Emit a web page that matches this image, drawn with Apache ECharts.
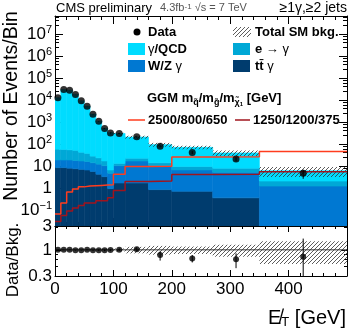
<!DOCTYPE html>
<html>
<head>
<meta charset="utf-8">
<script src="https://cdn.jsdelivr.net/npm/echarts@6/dist/echarts.min.js"></script>
<style>
  html, body { margin: 0; padding: 0; background: #fff; }
  #chart { width: 353px; height: 329px; }
</style>
</head>
<body>
<div id="chart"></div>
<script>
// MET bin edges [GeV]
var binEdges = [0, 10, 20, 30, 40, 50, 60, 70, 80, 90, 100, 120, 160, 200, 270, 350, 500];

// observed events per bin
var dataCounts = [13500, 32000, 29500, 19000, 9800, 5600, 2400, 1150, 540, 340, 320, 225, 84, 44, 22, 5];
var dataErr    = [116, 179, 172, 138, 99, 75, 49, 34, 23, 18, 18, 15, 9, 6.6, 4.7, 2.2];

// background components (events per bin)
var qcd     = [13400, 31400, 29400, 19400, 9750, 5560, 2420, 1145, 530, 338, 306, 196, 85, 65, 33.5, 4.3];
var eleFake = [40, 40, 38, 36, 27, 23, 15, 12, 7, 2, 3, 6, 4, 3, 3, 0.9];
var wzGamma = [11, 11, 11.5, 11, 10.5, 10, 9, 8.5, 7.5, 4, 9.2, 16.2, 10.1, 6.3, 5.1, 1.3];
var ttGamma = [9, 9, 8.5, 8, 7.5, 7, 6, 4.5, 3.5, 1.0, 1.8, 1.8, 0.9, 0.75, 0.38, 0];
// relative uncertainty of total SM background
var bkgUnc  = [0.01, 0.01, 0.01, 0.01, 0.01, 0.01, 0.02, 0.02, 0.03, 0.03, 0.07, 0.15, 0.2, 0.17, 0.27, 0.48];

// GGM signal points
var sig1 = [0.07, 0.22, 0.7, 0.95, 1.2, 1.3, 1.35, 1.4, 1.45, 1.5, 4.5, 10, 10.5, 27, 28, 48];
var sig2 = [0.032, 0.06, 0.095, 0.13, 0.17, 0.22, 0.22, 0.28, 0.28, 0.38, 0.83, 2.1, 2.2, 4.4, 4.5, 5.8];

// Data / Bkg ratio
var ratio     = [1.0, 1.0, 1.0, 0.98, 0.98, 1.0, 0.98, 0.98, 0.98, 0.99, 1.0, 1.03, 0.79, 0.67, 0.65, 0.73];
var ratioUp   = [0.01, 0.01, 0.01, 0.01, 0.01, 0.02, 0.02, 0.03, 0.04, 0.05, 0.05, 0.07, 0.14, 0.12, 0.2, 0.95];
var ratioDown = [0.01, 0.01, 0.01, 0.01, 0.01, 0.02, 0.02, 0.03, 0.04, 0.05, 0.05, 0.07, 0.18, 0.11, 0.22, 0.6];

var Y_MIN = 0.02, Y_MAX = 7e7;
var FONT = '"Liberation Sans", Arial, Helvetica, sans-serif';
var C_QCD = '#00dcff', C_ELE = '#00a8d6', C_WZ = '#0078d2', C_TT = '#003c6e';
var C_SIG1 = '#ff3c1e', C_SIG2 = '#a0141e';

function makeHatch() {
    var c = document.createElement('canvas');
    c.width = 4; c.height = 4;
    var g = c.getContext('2d');
    g.strokeStyle = '#333';
    g.lineWidth = 0.8;
    g.beginPath();
    g.moveTo(0, 4); g.lineTo(4, 0);
    g.moveTo(-1, 1); g.lineTo(1, -1);
    g.moveTo(3, 5); g.lineTo(5, 3);
    g.stroke();
    return c;
}
var hatch = { image: makeHatch(), repeat: 'repeat' };

var nBins = binEdges.length - 1;
var centers = [];
for (var i = 0; i < nBins; i++) centers.push((binEdges[i] + binEdges[i + 1]) / 2);

// stacked bands [lo, hi, base, top]
function stackBands() {
    var layers = [ttGamma, wzGamma, eleFake, qcd];
    var cum = new Array(nBins).fill(0);
    var out = [];
    layers.forEach(function (vals) {
        var items = [];
        for (var i = 0; i < nBins; i++) {
            var base = Math.max(cum[i], Y_MIN);
            cum[i] += vals[i];
            if (vals[i] > 0) items.push([binEdges[i], binEdges[i + 1], base, cum[i]]);
        }
        out.push(items);
    });
    return out;
}
var bands = stackBands();
var bandColors = [C_TT, C_WZ, C_ELE, C_QCD];

var totalBkg = [];
for (var i = 0; i < nBins; i++) totalBkg.push(qcd[i] + eleFake[i] + wzGamma[i] + ttGamma[i]);

function rectRender(fill, stroke) {
    return function (params, api) {
        var p0 = api.coord([api.value(0), api.value(3)]);
        var p1 = api.coord([api.value(1), api.value(2)]);
        return {
            type: 'rect',
            shape: { x: p0[0], y: p0[1], width: p1[0] - p0[0], height: p1[1] - p0[1] },
            style: { fill: fill, stroke: stroke || null, lineWidth: stroke ? 0.6 : 0 }
        };
    };
}
function errRender(params, api) {
    var a = api.coord([api.value(0), api.value(1)]);
    var b = api.coord([api.value(0), api.value(2)]);
    return { type: 'line', shape: { x1: a[0], y1: a[1], x2: b[0], y2: b[1] },
             style: { stroke: '#000', lineWidth: 1 } };
}

function stepData(vals) {
    return binEdges.map(function (e, i) { return [e, vals[Math.min(i, nBins - 1)]]; });
}

function fmtLog(v) {
    var l = Math.log10(v), e = Math.round(l);
    if (Math.abs(l - e) > 1e-6) return '';
    if (e === 0) return '{b|1}';
    if (e === 1) return '{b|10}';
    return '{b|10}{s|' + (e < 0 ? '\u2212' : '') + Math.abs(e) + '}';
}

function xAx(grid, pos, labels, tl) {
    return {
        type: 'value', gridIndex: grid, position: pos, min: 0, max: 500, interval: 100,
        axisLine: { show: true, onZero: false, lineStyle: { color: '#000', width: 1 } },
        axisTick: { show: true, inside: true, length: tl, lineStyle: { color: '#000' } },
        minorTick: { show: true, splitNumber: 5, length: tl / 2, lineStyle: { color: '#000' } },
        axisLabel: { show: labels, showMaxLabel: false, margin: 5, fontSize: 17, fontFamily: FONT, color: '#000' },
        splitLine: { show: false }
    };
}
function yAx(grid, pos, labels, min, max, tl, fmt) {
    return {
        type: 'log', gridIndex: grid, position: pos, min: min, max: max,
        axisLine: { show: true, onZero: false, lineStyle: { color: '#000', width: 1 } },
        axisTick: { show: true, inside: true, length: tl, lineStyle: { color: '#000' } },
        minorTick: { show: true, splitNumber: 5, length: tl / 2, lineStyle: { color: '#000' } },
        axisLabel: {
            show: labels, margin: 3, formatter: fmt, fontSize: 17, fontFamily: FONT, color: '#000',
            rich: {
                b: { fontSize: 17, fontFamily: FONT, color: '#000', lineHeight: 20 },
                s: { fontSize: 11, fontFamily: FONT, color: '#000', verticalAlign: 'top', lineHeight: 12 }
            }
        },
        splitLine: { show: false }
    };
}

var series = [];
bands.forEach(function (items, k) {
    series.push({ type: 'custom', xAxisIndex: 0, yAxisIndex: 0, clip: true, z: 2,
        renderItem: rectRender(bandColors[k], bandColors[k]), data: items, silent: true });
});
// total SM background uncertainty
series.push({ type: 'custom', xAxisIndex: 0, yAxisIndex: 0, clip: true, z: 3,
    renderItem: rectRender(hatch),
    data: totalBkg.map(function (t, i) { return [binEdges[i], binEdges[i + 1], t * (1 - bkgUnc[i]), t * (1 + bkgUnc[i])]; }) });
// signals
series.push({ type: 'line', xAxisIndex: 0, yAxisIndex: 0, step: 'end', symbol: 'none', z: 4,
    lineStyle: { color: C_SIG1, width: 1.5 }, data: stepData(sig1) });
series.push({ type: 'line', xAxisIndex: 0, yAxisIndex: 0, step: 'end', symbol: 'none', z: 4,
    lineStyle: { color: C_SIG2, width: 1.5 }, data: stepData(sig2) });
// data
series.push({ type: 'custom', xAxisIndex: 0, yAxisIndex: 0, clip: true, z: 5, renderItem: errRender,
    data: dataCounts.map(function (d, i) { return [centers[i], d - dataErr[i], d + dataErr[i]]; }) });
series.push({ type: 'scatter', xAxisIndex: 0, yAxisIndex: 0, symbolSize: 7, z: 6,
    itemStyle: { color: '#000' }, data: dataCounts.map(function (d, i) { return [centers[i], d]; }) });

// ratio panel
series.push({ type: 'custom', xAxisIndex: 2, yAxisIndex: 2, clip: true, z: 2,
    renderItem: rectRender(hatch),
    data: bkgUnc.map(function (u, i) { return [binEdges[i], binEdges[i + 1], 1 - u, 1 + u]; }) });
series.push({ type: 'line', xAxisIndex: 2, yAxisIndex: 2, symbol: 'none', z: 3,
    lineStyle: { color: '#333', width: 1 }, data: [[0, 1], [500, 1]] });
series.push({ type: 'custom', xAxisIndex: 2, yAxisIndex: 2, clip: true, z: 4, renderItem: errRender,
    data: ratio.map(function (r, i) { return [centers[i], r - ratioDown[i], r + ratioUp[i]]; }) });
series.push({ type: 'scatter', xAxisIndex: 2, yAxisIndex: 2, symbolSize: 6, z: 5,
    itemStyle: { color: '#000' }, data: ratio.map(function (r, i) { return [centers[i], r]; }) });

function txt(x, y, text, font, extra) {
    var st = { text: text, font: font, fill: '#000', textAlign: 'left', textVerticalAlign: 'middle' };
    for (var k in extra) st[k] = extra[k];
    return { type: 'text', x: x, y: y, z: 100, style: st };
}
var B13 = 'bold 13px ' + FONT;
var richLeg = {
    b: { font: B13, fill: '#000' },
    n: { font: '13px ' + FONT, fill: '#000' }
};

var graphic = [
    txt(56, 8, 'CMS preliminary', '13px ' + FONT),
    txt(160, 8, '{g|4.3fb}{s|-1}{g| \u221As = 7 TeV}', '11px ' + FONT, {
        rich: { g: { font: '11px ' + FONT, fill: '#555' }, s: { font: '8px ' + FONT, fill: '#555', verticalAlign: 'top' } } }),
    txt(347, 8, '\u22651\u03b3,\u22652 jets', '14px ' + FONT, { textAlign: 'right' }),
    // legend
    { type: 'circle', z: 100, shape: { cx: 137, cy: 32, r: 3.5 }, style: { fill: '#000' } },
    txt(148, 32, 'Data', B13),
    { type: 'rect', z: 100, shape: { x: 233, y: 27, width: 18, height: 10 }, style: { fill: hatch } },
    txt(255, 32, 'Total SM bkg.', B13),
    { type: 'rect', z: 100, shape: { x: 128, y: 43, width: 17, height: 12 }, style: { fill: C_QCD } },
    txt(148, 49, '{n|\u03b3}{b|/QCD}', B13, { rich: richLeg }),
    { type: 'rect', z: 100, shape: { x: 233, y: 43, width: 17, height: 12 }, style: { fill: C_ELE } },
    txt(255, 49, '{b|e} {n|\u2192 \u03b3}', B13, { rich: richLeg }),
    { type: 'rect', z: 100, shape: { x: 128, y: 60, width: 17, height: 12 }, style: { fill: C_WZ } },
    txt(148, 66, '{b|W/Z} {n|\u03b3}', B13, { rich: richLeg }),
    { type: 'rect', z: 100, shape: { x: 233, y: 60, width: 17, height: 12 }, style: { fill: C_TT } },
    txt(255, 66, '{b|tt\u0304} {n|\u03b3}', B13, { rich: richLeg }),
    txt(147, 98, '{b|GGM m}{sub|q\u0303}{b|/m}{sub|g\u0303}{b|/m}{sub|\u03c7\u0303}{tiny|1}{b| [GeV]}', B13, {
        rich: {
            b: { font: B13, fill: '#000', lineHeight: 18 },
            sub: { font: 'bold 9px ' + FONT, fill: '#000', verticalAlign: 'bottom', lineHeight: 9 },
            tiny: { font: 'bold 6px ' + FONT, fill: '#000', verticalAlign: 'bottom', lineHeight: 6 }
        } }),
    { type: 'line', z: 100, shape: { x1: 128, y1: 120, x2: 145, y2: 120 }, style: { stroke: C_SIG1, lineWidth: 1.5 } },
    txt(148, 120, '2500/800/650', B13),
    { type: 'line', z: 100, shape: { x1: 235, y1: 120, x2: 250, y2: 120 }, style: { stroke: C_SIG2, lineWidth: 1.5 } },
    txt(253, 120, '1250/1200/375', B13),
    // axis titles
    { type: 'text', x: 12, y: 106, rotation: Math.PI / 2, z: 100,
      style: { text: 'Number of Events/Bin', font: '19.5px ' + FONT, fill: '#000', textAlign: 'center', textVerticalAlign: 'middle' } },
    { type: 'text', x: 13, y: 260, rotation: Math.PI / 2, z: 100,
      style: { text: 'Data/Bkg.', font: '17px ' + FONT, fill: '#000', textAlign: 'center', textVerticalAlign: 'middle' } },
    txt(346, 318, '{b|E\u0338}{sub|T}{b| [GeV]}', '20px ' + FONT, { textAlign: 'right',
        rich: { b: { font: '20px ' + FONT, fill: '#000', lineHeight: 22 },
                sub: { font: '13px ' + FONT, fill: '#000', verticalAlign: 'bottom', lineHeight: 13 } } })
];

var chart = echarts.init(document.getElementById('chart'));
chart.setOption({
    animation: false,
    backgroundColor: '#fff',
    grid: [
        { left: 55, right: 6, top: 16, height: 210 },
        { left: 55, right: 6, top: 226, height: 50 }
    ],
    xAxis: [xAx(0, 'bottom', false, 8), xAx(0, 'top', false, 8), xAx(1, 'bottom', true, 6), xAx(1, 'top', false, 6)],
    yAxis: [
        yAx(0, 'left', true, Y_MIN, Y_MAX, 8, fmtLog),
        yAx(0, 'right', false, Y_MIN, Y_MAX, 8, fmtLog),
        yAx(1, 'left', true, 0.3, 3, 6, function (v) { return String(+v.toPrecision(2)); }),
        yAx(1, 'right', false, 0.3, 3, 6, function (v) { return String(+v.toPrecision(2)); })
    ],
    series: series,
    graphic: graphic
});
</script>
</body>
</html>
